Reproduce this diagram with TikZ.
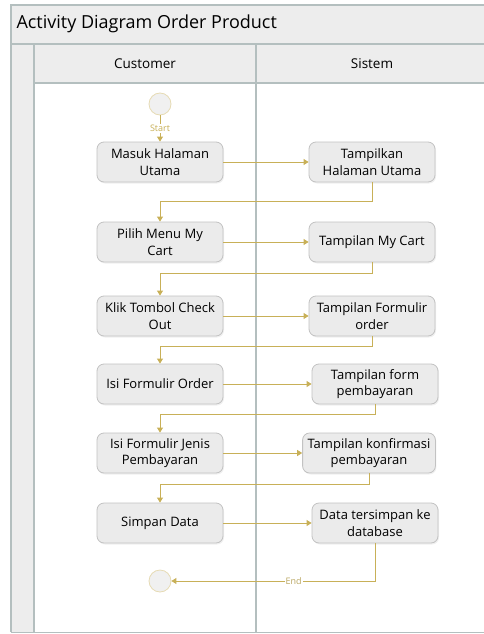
\documentclass[tikz,border=0pt]{standalone}
\usepackage{fontspec}
\setmainfont{Open Sans}
\usetikzlibrary{arrows.meta,shadows}
\definecolor{flowgold}{HTML}{C8B058}
\definecolor{lanegray}{HTML}{B4BFBF}
\definecolor{barfill}{HTML}{EDEDED}
\definecolor{actfill}{HTML}{EBEBEB}
\definecolor{actline}{HTML}{C2C2C2}
\tikzset{
  activity/.style={draw=actline,fill=actfill,rounded corners=7pt,line width=0.8pt,
    minimum width=126pt,minimum height=40pt,inner xsep=5pt,align=center,
    font=\fontsize{13}{16.5}\selectfont,
    drop shadow={opacity=0.12,shadow xshift=1pt,shadow yshift=-1.5pt}},
  flow/.style={draw=flowgold,line width=0.9pt,-{Triangle[width=6pt,length=5pt]}},
  terminal/.style={circle,draw=flowgold!45,fill=gray!12,line width=0.8pt,minimum size=22pt,inner sep=0pt},
  lane/.style={draw=lanegray,line width=1.6pt},
  flowlabel/.style={fill=white,inner sep=1pt,font=\fontsize{9}{10}\selectfont}
}
\begin{document}
\begin{tikzpicture}[x=1pt,y=-1pt]
\useasboundingbox (0,0) rectangle (483,634);
% swimlane frame
\fill[barfill] (11,5) rectangle (490,83);
\fill[barfill] (11,83) rectangle (34,632);
\draw[lane] (11,632) -- (11,5) -- (490,5);
\draw[lane] (11,44) -- (490,44);
\draw[lane] (34,83) -- (490,83);
\draw[lane] (34,44) -- (34,632);
\draw[lane] (256,44) -- (256,632);
\draw[lane,line width=0.8pt] (11,632) -- (490,632);
\node[anchor=west,font=\fontsize{18}{21}\selectfont] (title) at (13,24) {Activity Diagram Order Product};
\node[font=\fontsize{13.5}{16}\selectfont] (customer) at (145,64) {Customer};
\node[font=\fontsize{13.5}{16}\selectfont] (sistem) at (372,64) {Sistem};
% customer actions
\node[terminal] (start) at (160,104) {};
\node[activity] (masuk) at (160,162) {Masuk Halaman\\Utama};
\node[activity] (pilih) at (160,242) {Pilih Menu My\\Cart};
\node[activity] (klik) at (160,316) {Klik Tombol Check\\Out};
\node[activity] (isiorder) at (160,384) {Isi Formulir Order};
\node[activity] (isijenis) at (160,453) {Isi Formulir Jenis\\Pembayaran};
\node[activity] (simpan) at (160,523) {Simpan Data};
\node[terminal] (end) at (160,581) {};
% system actions
\node[activity] (thalaman) at (372,162) {Tampilkan\\Halaman Utama};
\node[activity] (tcart) at (372,242) {Tampilan My Cart};
\node[activity] (tformulir) at (372,316) {Tampilan Formulir\\order};
\node[activity] (tform) at (375,384) {Tampilan form\\pembayaran};
\node[activity] (tkonfirmasi) at (369,453) {Tampilan konfirmasi\\pembayaran};
\node[activity] (tdata) at (375,523) {Data tersimpan ke\\database};
% flows
\draw[flow] (start) -- node[flowlabel,text=flowgold]{Start} (masuk);
\draw[flow] (masuk) -- (thalaman);
\draw[flow] (thalaman.south) -- ++(0,19) -| (pilih.north);
\draw[flow] (pilih) -- (tcart);
\draw[flow] (tcart.south) -- ++(0,11) -| (klik.north);
\draw[flow] (klik) -- (tformulir);
\draw[flow] (tformulir.south) -- ++(0,10) -| (isiorder.north);
\draw[flow] (isiorder) -- (tform);
\draw[flow] (tform.south) -- ++(0,10) -| (isijenis.north);
\draw[flow] (isijenis) -- (tkonfirmasi);
\draw[flow] (tkonfirmasi.south) -- ++(0,11) -| (simpan.north);
\draw[flow] (simpan) -- (tdata);
\draw[flow] (tdata.south) |- node[flowlabel,text=flowgold!80!gray,pos=0.7]{End} (end);
\end{tikzpicture}
\end{document}
